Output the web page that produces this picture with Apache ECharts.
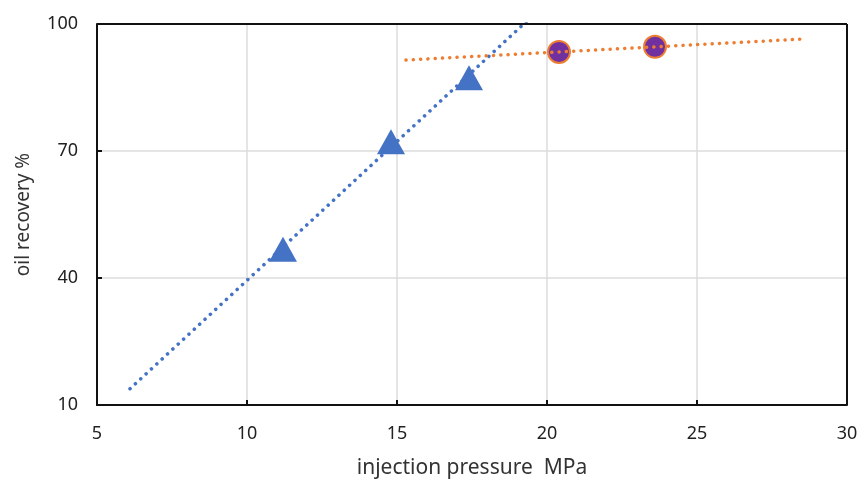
<!DOCTYPE html>
<html>
<head>
<meta charset="utf-8">
<script src="https://cdn.jsdelivr.net/npm/echarts@6/dist/echarts.min.js"></script>
<style>
  html, body { margin: 0; padding: 0; background: #fff; }
  #chart { width: 858px; height: 481px; }
</style>
</head>
<body>
<div id="chart"></div>
<script>
  // measured points
  const lowPressure = [11.2, 14.8, 17.4]
  const lowRecovery = [46.8, 72.2, 87.3]
  const highPressure = [20.4, 23.6]
  const highRecovery = [93.4, 94.6]
  // x extent of each linear trendline
  const lowTrendRange = [6.1, 19.4]
  const highTrendRange = [15.3, 28.6]

  function linearFit(xs, ys) {
    const n = xs.length
    const mx = xs.reduce((a, b) => a + b, 0) / n
    const my = ys.reduce((a, b) => a + b, 0) / n
    let sxy = 0
    let sxx = 0
    for (let i = 0; i < n; i++) {
      sxy += (xs[i] - mx) * (ys[i] - my)
      sxx += (xs[i] - mx) * (xs[i] - mx)
    }
    const k = sxy / sxx
    return (x) => my + k * (x - mx)
  }

  function trend(xs, ys, range) {
    const f = linearFit(xs, ys)
    return range.map((x) => [x, f(x)])
  }

  function pairs(xs, ys) {
    return xs.map((x, i) => [x, ys[i]])
  }

  const font = 'Noto Sans'
  const dotted = [0.1, 7.2]
  const chart = echarts.init(document.getElementById('chart'))
  chart.setOption({
    animation: false,
    grid: {
      left: 97,
      right: 11,
      top: 24,
      bottom: 76,
      outerBoundsMode: 'none',
    },
    xAxis: {
      type: 'value',
      min: 5,
      max: 30,
      interval: 5,
      name: 'injection pressure  MPa',
      nameLocation: 'middle',
      nameGap: 53,
      nameTextStyle: { fontFamily: font, fontSize: 21, color: '#333' },
      axisLine: { onZero: false, lineStyle: { color: '#111', width: 2 } },
      axisTick: { inside: true, length: 5, lineStyle: { color: '#111', width: 2 } },
      axisLabel: { fontFamily: font, fontSize: 18, color: '#222', margin: 20 },
      splitLine: { show: true, lineStyle: { color: '#dcdcdc', width: 1.5 } },
    },
    yAxis: {
      type: 'value',
      min: 10,
      max: 100,
      interval: 30,
      name: 'oil recovery %',
      nameLocation: 'middle',
      nameGap: 64,
      nameTextStyle: { fontFamily: font, fontSize: 19, color: '#333' },
      axisLine: { show: true, onZero: false, lineStyle: { color: '#111', width: 2 } },
      axisTick: { show: true, inside: true, length: 5, lineStyle: { color: '#111', width: 2 } },
      axisLabel: { fontFamily: font, fontSize: 18, color: '#222', margin: 19 },
      splitLine: { show: true, lineStyle: { color: '#dcdcdc', width: 1.5 } },
    },
    series: [
      {
        type: 'line',
        data: trend(lowPressure, lowRecovery, lowTrendRange),
        symbol: 'none',
        clip: true,
        lineStyle: { color: '#4472c4', width: 3.5, type: dotted, cap: 'round' },
        z: 3,
      },
      {
        type: 'line',
        data: trend(highPressure, highRecovery, highTrendRange),
        symbol: 'none',
        clip: true,
        lineStyle: { color: '#ed7d31', width: 3.5, type: dotted, cap: 'round' },
        z: 3,
      },
      {
        type: 'scatter',
        data: pairs(lowPressure, lowRecovery),
        symbol: 'triangle',
        symbolSize: [28, 25],
        itemStyle: { color: '#4472c4', opacity: 1 },
        z: 2,
      },
      {
        type: 'scatter',
        data: pairs(highPressure, highRecovery),
        symbol: 'circle',
        symbolSize: 22,
        itemStyle: { color: '#7030a0', borderColor: '#ed7d31', borderWidth: 2, opacity: 1 },
        z: 2,
      },
      {
        // closing frame on top and right
        type: 'line',
        data: [],
        markLine: {
          silent: true,
          symbol: 'none',
          label: { show: false },
          lineStyle: { color: '#111', width: 2, type: 'solid' },
          data: [{ yAxis: 100 }, { xAxis: 30 }],
        },
      },
    ],
  })
</script>
</body>
</html>
